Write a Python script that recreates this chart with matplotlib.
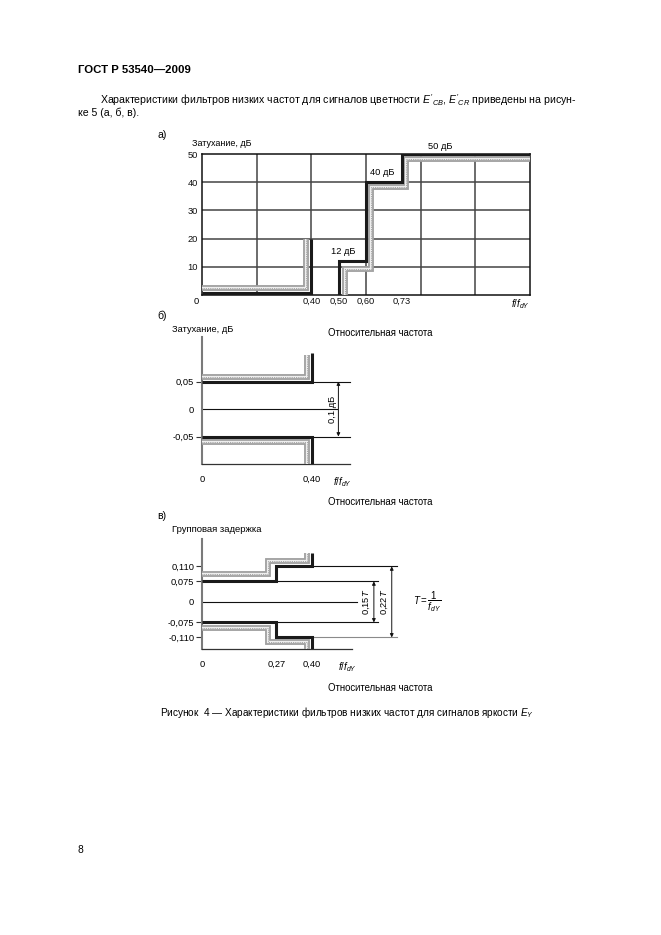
import numpy as np
import matplotlib
matplotlib.use('Agg')
import matplotlib.pyplot as plt
from matplotlib.scale import FuncScale

plt.rcParams['font.family'] = ['Liberation Sans', 'DejaVu Sans']
plt.rcParams['mathtext.fontset'] = 'custom'
plt.rcParams['mathtext.rm'] = 'Liberation Sans'
plt.rcParams['mathtext.it'] = 'Liberation Sans:italic'

# ---- panel a) attenuation mask
a_xticks = [0.40, 0.50, 0.60, 0.73]
a_xlabels = ['0,40', '0,50', '0,60', '0,73']
a_yticks = [10, 20, 30, 40, 50]
a_grid_x = [0.2, 0.4, 0.6, 0.8, 1.0]
a_pass_x = [0, 0.40, 0.40]
a_pass_y = [0.8, 0.8, 20]
a_stop_x = [0.50, 0.50, 0.60, 0.60, 0.73, 0.73, 1.2]
a_stop_y = [0, 12, 12, 40, 40, 50, 50]
a_band1_x = [0, 0.38, 0.38]
a_band1_y = [2.4, 2.4, 20]
a_band2_x = [0.524, 0.524, 0.617, 0.617, 0.748, 0.748, 1.2]
a_band2_y = [0, 9.1, 9.1, 38.2, 38.2, 48.3, 48.3]
a_notes = ['12 дБ', '40 дБ', '50 дБ']
a_note_x = [0.516, 0.66, 0.87]
a_note_y = [15.4, 43.5, 52.8]

# ---- panel б) passband ripple
b_yticks = [0.05, 0, -0.05]
b_ylabels = ['0,05', '0', '-0,05']
b_xticks = [0, 0.40]
b_xlabels = ['0', '0,40']
b_up_x = [0, 0.40, 0.40]
b_up_y = [0.05, 0.05, 0.102]
b_lo_x = [0, 0.40, 0.40]
b_lo_y = [-0.05, -0.05, -0.10]
b_bandup_x = [0, 0.383, 0.383]
b_bandup_y = [0.058, 0.058, 0.098]
b_bandlo_x = [0, 0.383, 0.383]
b_bandlo_y = [-0.06, -0.06, -0.10]
b_thin_y = [0.05, 0, -0.05]
b_thin_x0 = [0.40, 0, 0.40]
b_thin_x1 = [0.538, 0.49, 0.538]
b_dim_x = 0.496
b_dim_lo, b_dim_hi = -0.05, 0.05

# ---- panel в) group delay
c_yticks = [0.110, 0.075, 0, -0.075, -0.110]
c_ylabels = ['0,110', '0,075', '0', '-0,075', '-0,110']
c_xticks = [0, 0.27, 0.40]
c_xlabels = ['0', '0,27', '0,40']
c_up_x = [0, 0.27, 0.27, 0.40, 0.40]
c_up_y = [0.075, 0.075, 0.110, 0.110, 0.1415]
c_lo_x = [0, 0.27, 0.27, 0.40, 0.40]
c_lo_y = [-0.075, -0.075, -0.110, -0.110, -0.137]
c_bandup_x = [0, 0.241, 0.241, 0.382, 0.382]
c_bandup_y = [0.092, 0.092, 0.1236, 0.1236, 0.1415]
c_bandlo_x = [0, 0.241, 0.241, 0.382, 0.382]
c_bandlo_y = [-0.087, -0.087, -0.1217, -0.1217, -0.137]
c_thin_y = [0.110, 0.075, 0, -0.075, -0.110]
c_thin_x0 = [0.40, 0.27, 0, 0.27, 0.40]
c_thin_x1 = [0.708, 0.64, 0.5625, 0.64, 0.708]
c_dim1_x, c_dim2_x = 0.625, 0.69

W, H = 661, 935
fig = plt.figure(figsize=(W / 100, H / 100), dpi=100)

def box(l, t, r, b):
    return [l / W, 1 - b / H, (r - l) / W, (b - t) / H]

def ftext(x, y, s, **kw):
    kw.setdefault('va', 'center')
    kw.setdefault('size', 7.6)
    fig.text(x / W, 1 - y / H, s, **kw)

def band(ax, x, y):
    ax.plot(x, y, color='#a0a0a0', lw=4.2, solid_joinstyle='miter', solid_capstyle='butt', zorder=3)
    ax.plot(x, y, color='#eeeeee', lw=1.6, solid_joinstyle='miter', solid_capstyle='butt', zorder=3)
    ax.plot(x, y, color='#8c8c8c', lw=0.6, ls=(0, (1, 1.2)), zorder=3)

def mask(ax, x, y):
    ax.plot(x, y, color='#1a1a1a', lw=2.2, solid_joinstyle='miter', solid_capstyle='butt', zorder=4)

def dim(ax, x, y0, y1):
    ax.annotate('', xy=(x, y1), xytext=(x, y0),
                arrowprops=dict(arrowstyle='<|-|>', lw=0.7, color='#111111',
                                mutation_scale=5, shrinkA=0, shrinkB=0))

# page text
ftext(78, 70, 'ГОСТ Р 53540—2009', weight='bold', size=8.2)
ftext(100, 100, "Характеристики фильтров низких частот для сигналов цветности $E'_{CB}$, $E'_{CR}$ приведены на рисун-")
ftext(78, 113, 'ке 5 (а, б, в).')
ftext(157, 135, 'а)', size=7.6)
ftext(192, 144, 'Затухание, дБ', size=6.5)
ftext(157, 316, 'б)', size=7.6)
ftext(172, 329, 'Затухание, дБ', size=6.7)
ftext(380, 333, 'Относительная частота', ha='center', size=6.9)
ftext(380, 502, 'Относительная частота', ha='center', size=6.9)
ftext(157, 516, 'в)', size=7.6)
ftext(172, 530, 'Групповая задержка', size=6.8)
ftext(380, 688, 'Относительная частота', ha='center', size=6.9)
ftext(160, 713, 'Рисунок  4 — Характеристики фильтров низких частот для сигналов яркости $E_Y$', size=7.2)
ftext(78, 850, '8', size=7.4)

# ---------- panel a
ax = fig.add_axes(box(202, 154, 530, 295))
ax.set_xlim(0, 1.2)
ax.set_ylim(0, 50)
for gx in a_grid_x:
    ax.axvline(gx, color='#444444', lw=1.1, zorder=1)
for gy in a_yticks[:-1]:
    ax.axhline(gy, color='#444444', lw=1.1, zorder=1)
for s in ax.spines.values():
    s.set_color('#111111')
    s.set_linewidth(1.1)
band(ax, a_band1_x, a_band1_y)
band(ax, a_band2_x, a_band2_y)
mask(ax, a_pass_x, a_pass_y)
mask(ax, a_stop_x, a_stop_y)
ax.set_xticks(a_xticks, a_xlabels)
ax.set_yticks(a_yticks)
ax.tick_params(length=0, labelsize=6.7, colors='#111111')
ax.tick_params(axis='x', pad=1.5)
ax.tick_params(axis='y', pad=3)
for s, x, y in zip(a_notes, a_note_x, a_note_y):
    ax.text(x, y, s, ha='center', va='center', size=6.7, clip_on=False)
ax.annotate('0', xy=(0, 0), xytext=(-4, -1.5), textcoords='offset points',
            ha='center', va='top', size=6.7, annotation_clip=False)
ax.annotate('$f/f_{dY}$', xy=(1.2, 0), xytext=(0, -1.5), textcoords='offset points',
            ha='right', va='top', size=6.9, annotation_clip=False)

# ---------- panel б
bx = fig.add_axes(box(202, 337, 402, 464))
bx.set_xlim(0, 200 / 275)
bx.set_ylim(-0.10, 0.131)
bx.patch.set_alpha(0)
bx.spines[['top', 'right']].set_visible(False)
bx.spines['left'].set_color('#7a7a7a')
bx.spines['left'].set_linewidth(1.5)
bx.spines['bottom'].set_color('#333333')
bx.spines['bottom'].set_linewidth(0.9)
bx.spines['bottom'].set_bounds(0, 0.538)
for y, x0, x1 in zip(b_thin_y, b_thin_x0, b_thin_x1):
    bx.plot([x0, x1], [y, y], color='#111111', lw=0.8, zorder=2)
band(bx, b_bandup_x, b_bandup_y)
band(bx, b_bandlo_x, b_bandlo_y)
mask(bx, b_up_x, b_up_y)
mask(bx, b_lo_x, b_lo_y)
dim(bx, b_dim_x, b_dim_lo, b_dim_hi)
bx.text(b_dim_x - 0.022, (b_dim_lo + b_dim_hi) / 2, '0,1 дБ', rotation=90,
        ha='center', va='center', size=6.7)
bx.set_yticks(b_yticks, b_ylabels)
bx.set_xticks(b_xticks, b_xlabels)
bx.tick_params(axis='y', length=4, width=0.8, color='#333333', pad=1.5, labelsize=6.7)
bx.tick_params(axis='x', length=0, pad=8, labelsize=6.7)
bx.yaxis.get_major_ticks()[1].tick1line.set_visible(False)
bx.annotate('$f/f_{dY}$', xy=(0.476, -0.10), xytext=(0, -8), textcoords='offset points',
            ha='left', va='top', size=6.9, annotation_clip=False)

# ---------- panel в
kv = [-1, -0.110, -0.075, 0.075, 0.110, 1]
ku = [-416.5, -35.5, -20.5, 20.5, 35.5, 416.5]
cx = fig.add_axes(box(202, 539, 460, 649))
cx.set_yscale(FuncScale(cx.yaxis, (lambda v: np.interp(v, kv, ku), lambda u: np.interp(u, ku, kv))))
cx.set_xlim(0, 258 / 275)
cx.set_ylim(-0.137, 0.174)
cx.patch.set_alpha(0)
cx.spines[['top', 'right']].set_visible(False)
cx.spines['left'].set_color('#7a7a7a')
cx.spines['left'].set_linewidth(1.5)
cx.spines['bottom'].set_color('#333333')
cx.spines['bottom'].set_linewidth(0.9)
cx.spines['bottom'].set_bounds(0, 0.544)
for y, x0, x1 in zip(c_thin_y, c_thin_x0, c_thin_x1):
    col = '#8a8a8a' if y == -0.110 else '#111111'
    cx.plot([x0, x1], [y, y], color=col, lw=0.8, zorder=2)
band(cx, c_bandup_x, c_bandup_y)
band(cx, c_bandlo_x, c_bandlo_y)
mask(cx, c_up_x, c_up_y)
mask(cx, c_lo_x, c_lo_y)
dim(cx, c_dim1_x, -0.075, 0.075)
dim(cx, c_dim2_x, -0.110, 0.110)
cx.text(c_dim1_x - 0.026, 0, '0,15$T$', rotation=90, ha='center', va='center', size=6.7)
cx.text(c_dim2_x - 0.026, 0, '0,22$T$', rotation=90, ha='center', va='center', size=6.7)
cx.text(0.767, 0, r'$T = \dfrac{1}{f_{dY}}$', ha='left', va='center', size=7.0)
cx.set_yticks(c_yticks, c_ylabels)
cx.set_xticks(c_xticks, c_xlabels)
cx.yaxis.set_minor_locator(matplotlib.ticker.NullLocator())
cx.tick_params(axis='y', length=4, width=0.8, color='#333333', pad=1.5, labelsize=6.7)
cx.tick_params(axis='x', length=0, pad=8, labelsize=6.7)
cx.yaxis.get_major_ticks()[2].tick1line.set_visible(False)
cx.annotate('$f/f_{dY}$', xy=(0.496, -0.137), xytext=(0, -8), textcoords='offset points',
            ha='left', va='top', size=6.9, annotation_clip=False)

fig.savefig('out.png', dpi=100)
